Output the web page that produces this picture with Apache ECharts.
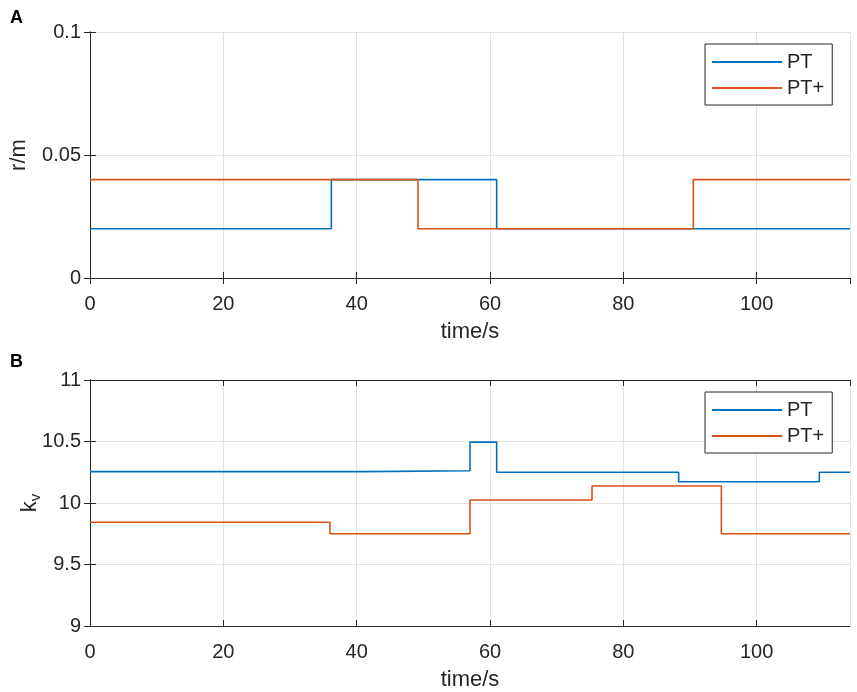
<!DOCTYPE html>
<html style="height: 100%">
<head>
    <meta charset="utf-8">
</head>
<body style="height: 100%; margin: 0; background: #fff; overflow: hidden">
<div id="container" style="width: 100%; height: 100%"></div>
<script type="text/javascript" src="https://cdn.jsdelivr.net/npm/echarts@6.0.0/dist/echarts.min.js"></script>
<script type="text/javascript">
  // panel A: r/m, step changes over time
  const rTimePT = [0, 36.2, 61, 114];
  const rValuePT = [0.02, 0.04, 0.02, 0.02];
  const rTimePTplus = [0, 49.2, 90.5, 114];
  const rValuePTplus = [0.04, 0.02, 0.04, 0.04];

  // panel B: k_v
  const kTimePT = [0, 41.1, 57, 61, 88.3, 109.4, 114];
  const kValuePT = [10.255, 10.262, 10.495, 10.25, 10.173, 10.25, 10.25];
  const kTimePTplus = [0, 36, 57, 75.3, 94.7, 114];
  const kValuePTplus = [9.843, 9.75, 10.025, 10.138, 9.75, 9.75];

  const seriesNames = ['PT', 'PT+'];
  const colors = ['#0072BD', '#D95319'];

  const zip = (xs, ys) => xs.map((x, i) => [x, ys[i]]);

  const font = '"Liberation Sans", Arial, Helvetica, sans-serif';
  const textColor = '#262626';
  const axisColor = '#262626';
  const gridColor = '#e3e3e3';

  function xAxes (gridIndex) {
    const base = {
      gridIndex: gridIndex,
      type: 'value',
      min: 0,
      max: 114,
      interval: 20,
      axisLine: { show: true, lineStyle: { color: axisColor, width: 1 } },
      axisTick: { show: true, inside: true, length: 6, lineStyle: { color: axisColor } }
    };
    return [
      Object.assign({}, base, {
        position: 'bottom',
        name: 'time/s',
        nameLocation: 'middle',
        nameGap: 43,
        nameTextStyle: { fontFamily: font, fontSize: 22, color: textColor },
        axisLabel: { fontFamily: font, fontSize: 20, color: textColor, margin: 16, showMaxLabel: false },
        splitLine: { show: true, lineStyle: { color: gridColor, width: 1 } }
      }),
      Object.assign({}, base, {
        position: 'top',
        axisLabel: { show: false },
        splitLine: { show: false }
      })
    ];
  }

  function yAxes (gridIndex, min, max, interval, name, nameRich, nameGap) {
    const base = {
      gridIndex: gridIndex,
      type: 'value',
      min: min,
      max: max,
      interval: interval,
      axisLine: { show: true, lineStyle: { color: axisColor, width: 1 } },
      axisTick: { show: true, inside: true, length: 6, lineStyle: { color: axisColor } }
    };
    return [
      Object.assign({}, base, {
        position: 'left',
        name: name,
        nameLocation: 'middle',
        nameGap: nameGap,
        nameMoveOverlap: false,
        nameTextStyle: { fontFamily: font, fontSize: 22, color: textColor, rich: nameRich },
        axisLabel: { fontFamily: font, fontSize: 20, color: textColor, margin: 9 },
        splitLine: { show: true, lineStyle: { color: gridColor, width: 1 } }
      }),
      Object.assign({}, base, {
        position: 'right',
        axisLabel: { show: false },
        splitLine: { show: false }
      })
    ];
  }

  function legendAt (top) {
    return {
      data: seriesNames,
      orient: 'vertical',
      left: 705,
      top: top,
      icon: 'rect',
      itemWidth: 70,
      itemHeight: 2,
      itemGap: 6,
      padding: [8, 8, 7, 7],
      borderColor: '#262626',
      borderWidth: 1,
      borderRadius: 0,
      backgroundColor: '#fff',
      selectedMode: false,
      textStyle: { fontFamily: font, fontSize: 20, color: textColor }
    };
  }

  function stepSeries (name, color, xi, yi, data) {
    return {
      name: name,
      type: 'line',
      step: 'end',
      xAxisIndex: xi,
      yAxisIndex: yi,
      showSymbol: false,
      symbol: 'none',
      color: color,
      lineStyle: { color: color, width: 1.6 },
      data: data
    };
  }

  const dom = document.getElementById('container');
  const myChart = echarts.init(dom, null, { renderer: 'canvas' });

  const option = {
    animation: false,
    backgroundColor: '#fff',
    title: [
      { text: 'A', left: 5, top: 4, textStyle: { fontFamily: font, fontSize: 18, fontWeight: 'bold', color: '#000' } },
      { text: 'B', left: 5, top: 348, textStyle: { fontFamily: font, fontSize: 18, fontWeight: 'bold', color: '#000' } }
    ],
    grid: [
      { left: 90, right: 7, top: 32, height: 246 },
      { left: 90, right: 7, top: 380, height: 246 }
    ],
    legend: [legendAt(44), legendAt(392)],
    xAxis: xAxes(0).concat(xAxes(1)),
    yAxis: yAxes(0, 0, 0.1, 0.05, 'r/m', {}, 60).concat(
      yAxes(1, 9, 11, 0.5, '{k|k}{v|v}', {
        k: { fontFamily: font, fontSize: 22, color: textColor },
        v: { fontFamily: font, fontSize: 15, color: textColor, padding: [11, 0, 0, 0] }
      }, 47)
    ),
    series: [
      stepSeries('PT', colors[0], 0, 0, zip(rTimePT, rValuePT)),
      stepSeries('PT+', colors[1], 0, 0, zip(rTimePTplus, rValuePTplus)),
      stepSeries('PT', colors[0], 2, 2, zip(kTimePT, kValuePT)),
      stepSeries('PT+', colors[1], 2, 2, zip(kTimePTplus, kValuePTplus))
    ]
  };
  myChart.setOption(option);
  window.addEventListener('resize', () => myChart.resize());
</script>
</body>
</html>
